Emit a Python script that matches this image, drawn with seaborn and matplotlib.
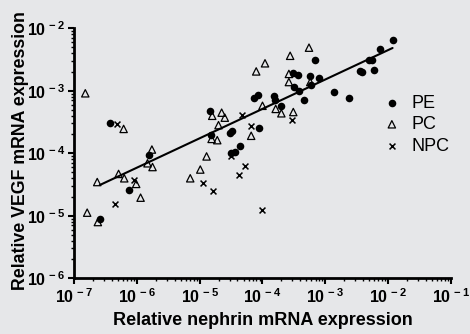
import numpy as np
import pandas as pd
import matplotlib
matplotlib.use("Agg")
import matplotlib.pyplot as plt
import seaborn as sns
from matplotlib.ticker import LogLocator, FuncFormatter, NullFormatter

# ---- data (log10 values) ----
pe_logx = [-6.42, -5.80, -4.82, -4.84, -4.52, -4.48, -4.50, -4.43, -4.36, -4.06,
           -6.12, -6.59, -4.14, -4.07, -3.81, -3.80, -3.71, -3.52, -3.43, -3.50,
           -3.42, -3.34, -3.24, -3.10, -3.23, -3.17, -2.86, -2.62, -2.45, -2.41,
           -2.22, -2.30, -2.25, -2.13, -1.93]
pe_logy = [-3.51, -4.02, -3.70, -3.33, -3.68, -3.64, -4.00, -3.98, -3.88, -3.59,
           -4.59, -5.05, -3.11, -3.06, -3.08, -3.14, -3.25, -2.71, -2.75, -2.94,
           -3.00, -3.15, -2.77, -2.80, -2.91, -2.50, -3.02, -3.11, -2.68, -2.70,
           -2.67, -2.51, -2.50, -2.33, -2.19]
pc_logx = [-6.82, -6.21, -5.76, -5.83, -5.75, -4.89, -4.80, -4.65, -4.60, -4.70,
           -4.81, -4.72, -4.00, -4.18, -6.29, -6.20, -6.63, -6.01, -5.94, -6.79,
           -6.62, -4.99, -5.15, -3.96, -4.10, -3.56, -3.26, -3.58, -3.58, -3.24,
           -3.79, -3.70, -3.51]
pc_logy = [-3.04, -3.61, -3.94, -4.16, -4.22, -4.05, -3.40, -3.35, -3.43, -3.55,
           -3.77, -3.79, -3.24, -3.72, -4.33, -4.40, -4.46, -4.49, -4.71, -4.95,
           -5.10, -4.26, -4.40, -2.56, -2.69, -2.44, -2.31, -2.73, -2.86, -2.86,
           -3.29, -3.36, -3.34]
npc_logx = [-6.31, -4.50, -4.32, -4.19, -4.28, -4.37, -4.95, -4.79, -4.01, -6.04,
            -6.34, -3.53]
npc_logy = [-3.53, -4.04, -3.38, -3.57, -4.21, -4.34, -4.48, -4.60, -4.90, -4.43,
            -4.81, -3.47]
groups = ["PE", "PC", "NPC"]
# regression line (log-log)
fit_slope = 0.4706
fit_intercept = -1.407

df = pd.DataFrame({
    "x": 10 ** np.array(pe_logx + pc_logx + npc_logx),
    "y": 10 ** np.array(pe_logy + pc_logy + npc_logy),
    "group": ["PE"] * len(pe_logx) + ["PC"] * len(pc_logx) + ["NPC"] * len(npc_logx),
})

sns.set_theme(style="ticks")
plt.rcParams["font.family"] = ["Liberation Sans", "DejaVu Sans"]
plt.rcParams["mathtext.fontset"] = "custom"
plt.rcParams["mathtext.rm"] = "Liberation Sans:bold"
plt.rcParams["mathtext.bf"] = "Liberation Sans:bold"
plt.rcParams["mathtext.it"] = "Liberation Sans:bold"

bg = "#e6e7e9"
fig = plt.figure(figsize=(4.70, 3.34), dpi=100, facecolor=bg)
ax = fig.add_axes([0.1574, 0.1668, 0.8022, 0.7485])
ax.set_facecolor(bg)

styles = {
    "PE": dict(marker="o", s=30, color="black", edgecolor="black", linewidth=0),
    "PC": dict(marker="^", s=28, facecolor="none", edgecolor="black", linewidth=0.9),
    "NPC": dict(marker="x", s=18, color="black", linewidth=1.1),
}
for g in groups:
    sub = df[df.group == g]
    sns.scatterplot(data=sub, x="x", y="y", ax=ax, label=g, **styles[g])

pe = df[df.group == "PE"]
xl = np.logspace(np.log10(pe.x.min()), np.log10(pe.x.max()), 50)
yl = 10 ** (fit_intercept + fit_slope * np.log10(xl))
sns.lineplot(x=xl, y=yl, ax=ax, color="black", linewidth=1.5, legend=False)

ax.set_xscale("log")
ax.set_yscale("log")
ax.set_xlim(1e-7, 1e-1)
ax.set_ylim(1e-6, 1e-2)

fmt = FuncFormatter(lambda v, p: r"$\mathbf{10^{\,%d}}$" % int(round(np.log10(v))))
ax.xaxis.set_major_locator(LogLocator(base=10, numticks=10))
ax.yaxis.set_major_locator(LogLocator(base=10, numticks=10))
ax.xaxis.set_minor_locator(LogLocator(base=10, subs=np.arange(2, 10), numticks=20))
ax.yaxis.set_minor_locator(LogLocator(base=10, subs=np.arange(2, 10), numticks=20))
ax.xaxis.set_major_formatter(fmt)
ax.yaxis.set_major_formatter(fmt)
ax.xaxis.set_minor_formatter(NullFormatter())
ax.yaxis.set_minor_formatter(NullFormatter())
ax.tick_params(which="major", direction="out", length=4, width=1.5, labelsize=11.5,
               color="black", labelcolor="black", pad=2.5)
ax.tick_params(which="minor", direction="out", length=2.5, width=1.0, color="black")

for s in ["top", "right"]:
    ax.spines[s].set_visible(False)
for s in ["left", "bottom"]:
    ax.spines[s].set_linewidth(2)
    ax.spines[s].set_color("black")

ax.set_xlabel("Relative nephrin mRNA expression", fontsize=13, fontweight="bold",
              color="black")
ax.set_ylabel("Relative VEGF mRNA expression", fontsize=12.8, fontweight="bold",
              color="black")
ax.xaxis.set_label_coords(0.5, -0.135)
ax.yaxis.set_label_coords(-0.118, 0.51)

leg = ax.legend(loc="center left", bbox_to_anchor=(0.80, 0.615), frameon=False,
                fontsize=13, handletextpad=0.6, labelspacing=0.25, borderaxespad=0,
                handlelength=1.0)
for t in leg.get_texts():
    t.set_color("black")

fig.savefig("out.png", dpi=100, facecolor=bg)
